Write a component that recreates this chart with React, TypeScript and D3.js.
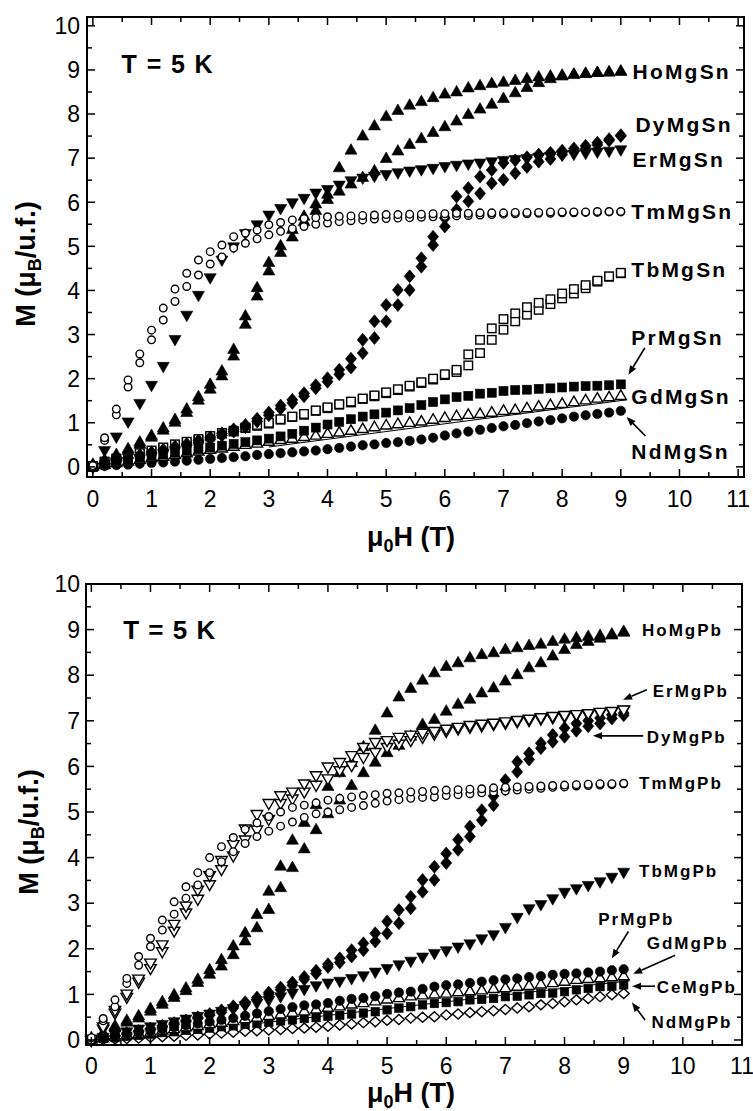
import React from 'react';
import * as d3 from 'd3';

// ---------- data ----------
const FIELD = [0,0.2,0.4,0.6,0.8,1,1.2,1.4,1.6,1.8,2,2.2,2.4,2.6,2.8,3,3.2,3.4,3.6,3.8,4,4.2,4.4,4.6,4.8,5,5.2,5.4,5.6,5.8,6,6.2,6.4,6.6,6.8,7,7.2,7.4,7.6,7.8,8,8.2,8.4,8.6,8.8,9];
const X_TICKS = [0,1,2,3,4,5,6,7,8,9,10,11];
const Y_TICKS = [0,1,2,3,4,5,6,7,8,9,10];

// RMgSn (top panel)
const HoSnUp = [0.02,0.12,0.23,0.36,0.5,0.66,0.82,1.0,1.22,1.5,1.75,2.05,2.5,3.22,3.86,4.43,4.85,5.2,5.55,5.8,6.05,6.24,6.4,6.55,6.7,6.98,7.15,7.3,7.43,7.57,7.7,7.83,7.98,8.1,8.21,8.34,8.47,8.59,8.7,8.79,8.85,8.89,8.91,8.93,8.94,8.96];
const HoSnDown = [0.05,0.15,0.27,0.4,0.55,0.7,0.87,1.06,1.3,1.58,1.86,2.16,2.65,3.41,4.05,4.62,5.0,5.37,5.67,5.95,6.17,6.77,7.17,7.49,7.72,7.93,8.07,8.19,8.27,8.36,8.44,8.49,8.58,8.63,8.68,8.71,8.75,8.79,8.83,8.85,8.87,8.89,8.91,8.93,8.94,8.96];
const DySnUp = [0,0.07,0.13,0.19,0.25,0.31,0.37,0.43,0.49,0.56,0.63,0.71,0.8,0.9,1.03,1.17,1.32,1.45,1.6,1.78,1.93,2.1,2.25,2.58,2.92,3.3,3.67,4.01,4.54,5.03,5.45,5.83,6.02,6.2,6.43,6.51,6.66,6.8,6.92,6.98,7.08,7.15,7.22,7.3,7.4,7.5];
const DySnDown = [0.02,0.09,0.15,0.21,0.27,0.33,0.39,0.46,0.52,0.6,0.67,0.76,0.85,0.95,1.09,1.23,1.39,1.52,1.67,1.85,2.01,2.2,2.45,2.88,3.3,3.67,4.01,4.32,4.73,5.22,5.64,6.13,6.32,6.58,6.73,6.89,6.95,7.02,7.08,7.12,7.17,7.22,7.28,7.35,7.43,7.52];
const ErSn = [0,0.38,0.69,1.03,1.45,1.86,2.29,2.9,3.45,3.9,4.3,4.7,5.0,5.3,5.5,5.72,5.87,6.0,6.1,6.22,6.3,6.4,6.5,6.56,6.6,6.64,6.68,6.72,6.75,6.78,6.82,6.85,6.88,6.9,6.93,6.96,6.98,7.0,7.03,7.05,7.08,7.1,7.12,7.15,7.17,7.2];
const TmSnUp = [0,0.6,1.18,1.81,2.36,2.88,3.33,3.75,4.09,4.35,4.6,4.76,4.96,5.07,5.17,5.26,5.34,5.4,5.45,5.5,5.53,5.56,5.58,5.6,5.62,5.63,5.64,5.65,5.66,5.67,5.68,5.69,5.7,5.71,5.72,5.73,5.74,5.74,5.75,5.75,5.76,5.76,5.77,5.77,5.78,5.78];
const TmSnDown = [0.03,0.66,1.31,1.97,2.56,3.1,3.6,4.03,4.39,4.69,4.88,5.03,5.22,5.3,5.37,5.49,5.54,5.6,5.63,5.65,5.67,5.68,5.69,5.7,5.71,5.72,5.72,5.73,5.73,5.74,5.74,5.75,5.75,5.76,5.76,5.76,5.77,5.77,5.77,5.78,5.78,5.78,5.78,5.79,5.79,5.79];
const TbSnUp = [0,0.1,0.17,0.23,0.29,0.35,0.42,0.5,0.55,0.61,0.69,0.75,0.8,0.88,0.93,0.98,1.07,1.13,1.18,1.27,1.33,1.41,1.46,1.54,1.6,1.67,1.74,1.82,1.9,1.98,2.08,2.15,2.3,2.58,2.88,3.11,3.3,3.45,3.56,3.69,3.82,3.93,4.05,4.2,4.31,4.39];
const TbSnDown = [0.02,0.12,0.19,0.25,0.31,0.37,0.44,0.51,0.57,0.63,0.7,0.77,0.82,0.89,0.95,1.0,1.08,1.14,1.2,1.28,1.35,1.42,1.48,1.55,1.62,1.69,1.76,1.84,1.92,2.0,2.1,2.2,2.55,2.88,3.14,3.35,3.48,3.62,3.72,3.8,3.93,4.03,4.12,4.22,4.32,4.4];
const PrSn = [0,0.05,0.1,0.15,0.2,0.24,0.28,0.32,0.36,0.4,0.44,0.48,0.52,0.56,0.6,0.64,0.69,0.75,0.82,0.89,0.96,1.02,1.08,1.14,1.19,1.23,1.28,1.33,1.4,1.47,1.53,1.58,1.61,1.66,1.68,1.72,1.74,1.75,1.77,1.78,1.8,1.82,1.83,1.84,1.85,1.87];
const GdSn = [0,0.04,0.08,0.11,0.15,0.19,0.22,0.26,0.3,0.34,0.38,0.41,0.45,0.49,0.52,0.56,0.6,0.63,0.67,0.7,0.74,0.77,0.81,0.85,0.89,0.93,0.96,0.99,1.02,1.06,1.1,1.14,1.17,1.19,1.22,1.26,1.28,1.32,1.36,1.39,1.42,1.46,1.5,1.54,1.57,1.6];
const NdSn = [0,0.02,0.04,0.05,0.07,0.09,0.1,0.12,0.14,0.16,0.18,0.2,0.22,0.24,0.27,0.29,0.31,0.33,0.35,0.37,0.4,0.43,0.46,0.49,0.51,0.54,0.56,0.59,0.62,0.66,0.71,0.76,0.8,0.84,0.88,0.92,0.95,0.99,1.03,1.06,1.1,1.14,1.17,1.2,1.23,1.27];
const GdSnFitH = [3.0, 9.1];
const GdSnFitM = [0.45, 1.52];

// RMgPb (bottom panel)
const HoPbUp = [0.02,0.12,0.27,0.38,0.47,0.62,0.77,0.92,1.07,1.25,1.43,1.61,1.86,2.16,2.45,2.85,3.33,3.77,4.18,4.6,4.95,5.25,5.57,5.85,6.08,6.29,6.45,6.65,6.91,7.02,7.2,7.35,7.46,7.6,7.71,7.86,8.0,8.15,8.26,8.41,8.55,8.66,8.73,8.8,8.87,8.93];
const HoPbDown = [0.04,0.15,0.3,0.42,0.52,0.68,0.83,0.98,1.13,1.32,1.53,1.75,2.05,2.34,2.74,3.25,3.8,4.37,4.76,5.15,5.55,5.85,6.07,6.42,6.78,7.16,7.51,7.7,7.88,8.04,8.18,8.26,8.37,8.44,8.48,8.55,8.59,8.64,8.67,8.73,8.78,8.81,8.84,8.86,8.89,8.95];
const ErPbUp = [0,0.25,0.6,0.95,1.28,1.58,1.95,2.4,2.8,3.1,3.42,3.75,4.05,4.4,4.62,4.85,5.2,5.3,5.45,5.6,5.74,5.92,6.03,6.21,6.32,6.43,6.5,6.58,6.65,6.72,6.78,6.83,6.87,6.9,6.93,6.96,6.99,7.02,7.05,7.08,7.1,7.13,7.15,7.18,7.21,7.24];
const ErPbDown = [0.03,0.3,0.66,1.02,1.35,1.7,2.1,2.55,2.95,3.3,3.62,3.95,4.3,4.64,4.96,5.2,5.37,5.45,5.63,5.81,6.0,6.1,6.25,6.43,6.54,6.58,6.65,6.7,6.74,6.78,6.83,6.87,6.91,6.94,6.96,6.99,7.02,7.05,7.08,7.11,7.13,7.15,7.17,7.2,7.22,7.25];
const DyPbUp = [0,0.04,0.08,0.13,0.18,0.23,0.28,0.34,0.4,0.47,0.54,0.61,0.7,0.79,0.88,1.0,1.1,1.2,1.33,1.46,1.6,1.7,1.83,1.97,2.16,2.34,2.56,2.89,3.25,3.51,3.88,4.17,4.46,4.82,5.15,5.5,5.88,6.15,6.4,6.54,6.65,6.78,6.88,6.94,7.05,7.12];
const DyPbDown = [0.01,0.05,0.1,0.15,0.2,0.25,0.31,0.37,0.43,0.5,0.57,0.65,0.74,0.83,0.93,1.04,1.15,1.26,1.38,1.52,1.66,1.79,1.97,2.12,2.34,2.6,2.85,3.14,3.51,3.8,4.09,4.39,4.68,5.04,5.35,5.7,6.1,6.29,6.51,6.69,6.84,6.94,7.0,7.06,7.13,7.17];
const TmPbUp = [0,0.42,0.73,1.24,1.64,2.05,2.41,2.76,3.11,3.4,3.67,3.91,4.13,4.31,4.46,4.58,4.69,4.78,4.88,4.96,5.0,5.05,5.1,5.14,5.19,5.24,5.27,5.3,5.32,5.33,5.36,5.38,5.4,5.42,5.44,5.46,5.48,5.5,5.52,5.54,5.55,5.57,5.58,5.59,5.6,5.62];
const TmPbDown = [0.05,0.47,0.88,1.35,1.83,2.23,2.63,3.03,3.36,3.67,4.0,4.24,4.44,4.62,4.76,4.9,5.0,5.1,5.15,5.2,5.26,5.3,5.33,5.36,5.38,5.41,5.42,5.44,5.45,5.47,5.48,5.49,5.5,5.51,5.53,5.54,5.55,5.56,5.57,5.58,5.59,5.6,5.61,5.62,5.62,5.63];
const TbPb = [0,0.07,0.13,0.19,0.25,0.3,0.35,0.41,0.47,0.53,0.58,0.64,0.7,0.76,0.82,0.88,0.96,1.04,1.12,1.2,1.26,1.3,1.36,1.42,1.5,1.58,1.66,1.74,1.83,1.91,1.97,2.05,2.12,2.23,2.32,2.48,2.7,2.89,2.98,3.11,3.25,3.33,3.4,3.48,3.58,3.69];
const PrPb = [0,0.04,0.08,0.12,0.16,0.2,0.24,0.28,0.32,0.36,0.4,0.44,0.48,0.53,0.58,0.63,0.68,0.72,0.76,0.78,0.81,0.86,0.9,0.92,0.96,1.01,1.04,1.06,1.12,1.17,1.2,1.22,1.25,1.28,1.31,1.33,1.35,1.38,1.4,1.43,1.45,1.46,1.48,1.5,1.53,1.55];
const GdPb = [0,0.03,0.06,0.1,0.13,0.16,0.2,0.23,0.27,0.3,0.34,0.37,0.41,0.45,0.48,0.52,0.55,0.59,0.62,0.66,0.7,0.73,0.77,0.8,0.84,0.88,0.91,0.95,0.97,0.99,1.01,1.04,1.06,1.08,1.11,1.13,1.16,1.18,1.21,1.24,1.27,1.31,1.33,1.35,1.37,1.39];
const CePb = [0,0.03,0.05,0.08,0.1,0.13,0.16,0.18,0.21,0.23,0.26,0.29,0.31,0.34,0.36,0.39,0.42,0.44,0.47,0.49,0.52,0.54,0.57,0.59,0.62,0.66,0.7,0.73,0.77,0.8,0.82,0.84,0.88,0.89,0.91,0.95,0.96,0.99,1.02,1.03,1.06,1.1,1.13,1.17,1.18,1.21];
const NdPb = [0,0.01,0.02,0.03,0.04,0.06,0.07,0.08,0.1,0.11,0.13,0.15,0.17,0.19,0.2,0.22,0.23,0.25,0.26,0.28,0.3,0.33,0.35,0.38,0.4,0.43,0.45,0.48,0.5,0.51,0.55,0.57,0.6,0.62,0.64,0.67,0.7,0.73,0.77,0.8,0.84,0.88,0.91,0.95,0.99,1.02];
const GdPbFitH = [2.8, 9.1];
const GdPbFitM = [0.36, 1.3];

// ---------- drawing ----------
type Shape = 'circle' | 'square' | 'triUp' | 'triDown' | 'diamond';
interface Style { shape: Shape; filled: boolean; w: number; h: number; }
interface Series { name: string; branches: number[][]; style: Style; }

function Marker({ s, x, y }: { s: Style; x: number; y: number }) {
  const fill = s.filled ? '#000' : '#fff';
  const stroke = '#000';
  const sw = s.filled ? 0.6 : 1.4;
  if (s.shape === 'circle') return <circle cx={x} cy={y} r={s.w / 2} fill={fill} stroke={stroke} strokeWidth={sw} />;
  if (s.shape === 'square') return <rect x={x - s.w / 2} y={y - s.h / 2} width={s.w} height={s.h} fill={fill} stroke={stroke} strokeWidth={sw} />;
  let d = '';
  if (s.shape === 'triUp') d = `M${x},${y - (s.h * 2) / 3}L${x + s.w / 2},${y + s.h / 3}L${x - s.w / 2},${y + s.h / 3}Z`;
  if (s.shape === 'triDown') d = `M${x},${y + (s.h * 2) / 3}L${x + s.w / 2},${y - s.h / 3}L${x - s.w / 2},${y - s.h / 3}Z`;
  if (s.shape === 'diamond') d = `M${x},${y - s.h / 2}L${x + s.w / 2},${y}L${x},${y + s.h / 2}L${x - s.w / 2},${y}Z`;
  return <path d={d} fill={fill} stroke={stroke} strokeWidth={sw} strokeLinejoin="miter" />;
}

interface Label { text: string; h: number; m: number; }
interface Arrow { h0: number; m0: number; h1: number; m1: number; }
interface PanelCfg {
  xDomain: [number, number]; xRange: [number, number];
  yDomain: [number, number]; yRange: [number, number];
  series: Series[];
  labels: Label[]; labelSize: number; labelLs: number;
  arrows: Arrow[];
  fit: { h: number[]; m: number[] };
  temp: { h: number; m: number; size: number; ls: number };
  xTickBaseline: number; xLabelBaseline: number; yLabelX: number; yLabelY: number;
}

const FONT = 'Liberation Sans, Arial, Helvetica, sans-serif';

function Panel({ c }: { c: PanelCfg }) {
  const x = d3.scaleLinear().domain(c.xDomain).range(c.xRange);
  const y = d3.scaleLinear().domain(c.yDomain).range(c.yRange);
  const [x0, x1] = c.xRange;
  const [yb, yt] = c.yRange;
  const majL = 8, minL = 5;
  const ticks: JSX.Element[] = [];
  X_TICKS.forEach((t, i) => {
    [t, t + 0.5].forEach((v, j) => {
      if (v > c.xDomain[1] + 1e-6) return;
      const L = j === 0 ? majL : minL;
      const px = x(v);
      ticks.push(<line key={`xb${i}${j}`} x1={px} x2={px} y1={yb} y2={yb - L} stroke="#000" strokeWidth={1.5} />);
      ticks.push(<line key={`xt${i}${j}`} x1={px} x2={px} y1={yt} y2={yt + L} stroke="#000" strokeWidth={1.5} />);
    });
  });
  Y_TICKS.forEach((t, i) => {
    [t, t + 0.5].forEach((v, j) => {
      if (v > c.yDomain[1] + 1e-6) return;
      const L = j === 0 ? majL : minL;
      const py = y(v);
      ticks.push(<line key={`yl${i}${j}`} x1={x0} x2={x0 + L} y1={py} y2={py} stroke="#000" strokeWidth={1.5} />);
      ticks.push(<line key={`yr${i}${j}`} x1={x1} x2={x1 - L} y1={py} y2={py} stroke="#000" strokeWidth={1.5} />);
    });
  });
  const fitLine = d3.line<number>().x((_, i) => x(c.fit.h[i])).y((m) => y(m));
  return (
    <g>
      <path d={fitLine(c.fit.m) || ''} stroke="#000" strokeWidth={1} fill="none" />
      {c.series.map((s) =>
        s.branches.map((b, bi) => (
          <g key={`${s.name}${bi}`}>
            {b.map((m, i) => <Marker key={i} s={s.style} x={x(FIELD[i])} y={y(m)} />)}
          </g>
        ))
      )}
      <rect x={x0} y={yt} width={x1 - x0} height={yb - yt} fill="none" stroke="#000" strokeWidth={2} />
      {ticks}
      {X_TICKS.map((t) => (
        <text key={`xl${t}`} x={x(t)} y={c.xTickBaseline} textAnchor="middle" fontFamily={FONT} fontSize={23}>{t}</text>
      ))}
      {Y_TICKS.map((t) => (
        <text key={`yl${t}`} x={80} y={y(t)} dy="0.36em" textAnchor="end" fontFamily={FONT} fontSize={23}>{t}</text>
      ))}
      <text x={x(c.temp.h)} y={y(c.temp.m)} fontFamily={FONT} fontWeight="bold" fontSize={c.temp.size} letterSpacing={c.temp.ls}>T = 5 K</text>
      {c.labels.map((l) => (
        <text key={l.text} x={x(l.h)} y={y(l.m)} dy="0.36em" fontFamily={FONT} fontWeight="bold" fontSize={c.labelSize} letterSpacing={c.labelLs}>{l.text}</text>
      ))}
      {c.arrows.map((a, i) => {
        const X0 = x(a.h0), Y0 = y(a.m0), X1 = x(a.h1), Y1 = y(a.m1);
        const ang = Math.atan2(Y1 - Y0, X1 - X0);
        const len = 9, hw = 3.5;
        const bx = X1 - len * Math.cos(ang), by = Y1 - len * Math.sin(ang);
        const p1 = `${bx + hw * Math.sin(ang)},${by - hw * Math.cos(ang)}`;
        const p2 = `${bx - hw * Math.sin(ang)},${by + hw * Math.cos(ang)}`;
        return (
          <g key={`ar${i}`}>
            <line x1={X0} y1={Y0} x2={bx} y2={by} stroke="#000" strokeWidth={1.6} />
            <polygon points={`${X1},${Y1} ${p1} ${p2}`} fill="#000" />
          </g>
        );
      })}
      <text x={411} y={c.xLabelBaseline} textAnchor="middle" fontFamily={FONT} fontWeight="bold" fontSize={27}>
        μ<tspan dy={6} fontSize={18}>0</tspan><tspan dy={-6}>H (T)</tspan>
      </text>
      <text transform={`translate(${c.yLabelX},${c.yLabelY}) rotate(-90)`} textAnchor="middle" fontFamily={FONT} fontWeight="bold" fontSize={27}>
        M (μ<tspan dy={6} fontSize={18}>B</tspan><tspan dy={-6}>/u.f.)</tspan>
      </text>
    </g>
  );
}

const TRI_UP_F: Style = { shape: 'triUp', filled: true, w: 12, h: 10.5 };
const TRI_UP_O: Style = { shape: 'triUp', filled: false, w: 11, h: 9.5 };
const TRI_DN_F: Style = { shape: 'triDown', filled: true, w: 12, h: 10.5 };
const TRI_DN_O: Style = { shape: 'triDown', filled: false, w: 11.5, h: 10 };
const DIA_F: Style = { shape: 'diamond', filled: true, w: 11, h: 13 };
const DIA_O: Style = { shape: 'diamond', filled: false, w: 11, h: 10 };
const CIR_O: Style = { shape: 'circle', filled: false, w: 7.6, h: 7.6 };
const CIR_F: Style = { shape: 'circle', filled: true, w: 9.4, h: 9.4 };
const SQ_O: Style = { shape: 'square', filled: false, w: 8.5, h: 8.5 };
const SQ_F: Style = { shape: 'square', filled: true, w: 9, h: 9 };
const SQ_F2: Style = { shape: 'square', filled: true, w: 8.5, h: 8.5 };

const topCfg: PanelCfg = {
  xDomain: [-0.1, 11.1], xRange: [87, 744],
  yDomain: [-0.23, 10.2], yRange: [477, 17],
  series: [
    { name: 'NdMgSn', branches: [NdSn], style: CIR_F },
    { name: 'GdMgSn', branches: [GdSn], style: TRI_UP_O },
    { name: 'PrMgSn', branches: [PrSn], style: SQ_F },
    { name: 'TbMgSn', branches: [TbSnUp, TbSnDown], style: SQ_O },
    { name: 'DyMgSn', branches: [DySnUp, DySnDown], style: DIA_F },
    { name: 'ErMgSn', branches: [ErSn], style: TRI_DN_F },
    { name: 'HoMgSn', branches: [HoSnUp, HoSnDown], style: TRI_UP_F },
    { name: 'TmMgSn', branches: [TmSnUp, TmSnDown], style: CIR_O },
  ],
  labels: [
    { text: 'HoMgSn', h: 9.2, m: 8.96 },
    { text: 'DyMgSn', h: 9.25, m: 7.76 },
    { text: 'ErMgSn', h: 9.2, m: 6.98 },
    { text: 'TmMgSn', h: 9.18, m: 5.78 },
    { text: 'TbMgSn', h: 9.18, m: 4.47 },
    { text: 'PrMgSn', h: 9.18, m: 2.93 },
    { text: 'GdMgSn', h: 9.18, m: 1.59 },
    { text: 'NdMgSn', h: 9.18, m: 0.34 },
  ],
  labelSize: 21, labelLs: 2.2,
  arrows: [
    { h0: 9.41, m0: 2.7, h1: 9.13, m1: 2.09 },
    { h0: 9.42, m0: 0.7, h1: 9.1, m1: 1.13 },
  ],
  fit: { h: GdSnFitH, m: GdSnFitM },
  temp: { h: 0.49, m: 8.93, size: 25, ls: 1.4 },
  xTickBaseline: 507, xLabelBaseline: 546, yLabelX: 35, yLabelY: 264,
};

const botCfg: PanelCfg = {
  xDomain: [-0.09, 11.0], xRange: [86, 742],
  yDomain: [-0.11, 10], yRange: [1045, 584],
  series: [
    { name: 'NdMgPb', branches: [NdPb], style: DIA_O },
    { name: 'CeMgPb', branches: [CePb], style: SQ_F2 },
    { name: 'GdMgPb', branches: [GdPb], style: TRI_UP_O },
    { name: 'PrMgPb', branches: [PrPb], style: CIR_F },
    { name: 'TbMgPb', branches: [TbPb], style: TRI_DN_F },
    { name: 'DyMgPb', branches: [DyPbUp, DyPbDown], style: DIA_F },
    { name: 'HoMgPb', branches: [HoPbUp, HoPbDown], style: TRI_UP_F },
    { name: 'ErMgPb', branches: [ErPbUp, ErPbDown], style: TRI_DN_O },
    { name: 'TmMgPb', branches: [TmPbUp, TmPbDown], style: CIR_O },
  ],
  labels: [
    { text: 'HoMgPb', h: 9.31, m: 8.99 },
    { text: 'ErMgPb', h: 9.49, m: 7.66 },
    { text: 'DyMgPb', h: 9.39, m: 6.65 },
    { text: 'TmMgPb', h: 9.26, m: 5.64 },
    { text: 'TbMgPb', h: 9.26, m: 3.71 },
    { text: 'PrMgPb', h: 8.57, m: 2.65 },
    { text: 'GdMgPb', h: 9.39, m: 2.12 },
    { text: 'CeMgPb', h: 9.56, m: 1.17 },
    { text: 'NdMgPb', h: 9.47, m: 0.4 },
  ],
  labelSize: 17, labelLs: 2,
  arrows: [
    { h0: 9.39, m0: 7.68, h1: 8.99, m1: 7.46 },
    { h0: 9.33, m0: 6.67, h1: 8.48, m1: 6.67 },
    { h0: 9.08, m0: 2.38, h1: 8.8, m1: 1.79 },
    { h0: 9.87, m0: 1.86, h1: 9.16, m1: 1.45 },
    { h0: 9.53, m0: 1.18, h1: 9.14, m1: 1.18 },
    { h0: 9.36, m0: 0.44, h1: 9.14, m1: 0.82 },
  ],
  fit: { h: GdPbFitH, m: GdPbFitM },
  temp: { h: 0.54, m: 8.79, size: 26, ls: 1 },
  xTickBaseline: 1074, xLabelBaseline: 1102, yLabelX: 38, yLabelY: 832,
};

export default function App() {
  return (
    <svg width={753} height={1111} viewBox="0 0 753 1111" style={{ position: 'absolute', left: 0, top: 0, background: '#fff' }}>
      <rect width={753} height={1111} fill="#fff" />
      <Panel c={topCfg} />
      <Panel c={botCfg} />
    </svg>
  );
}
